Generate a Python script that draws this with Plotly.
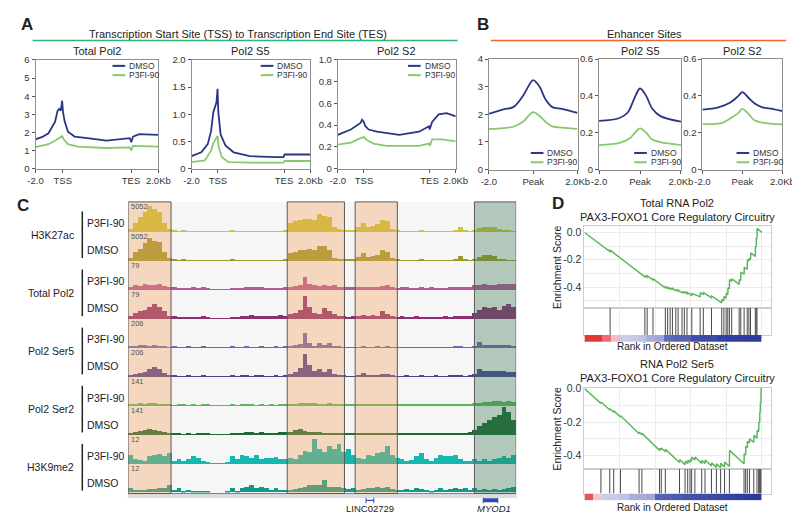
import plotly.graph_objects as go

W, H = 800, 514
FONT = "Liberation Sans, Arial, sans-serif"
DMSO_COLOR = "#2b3585"
P3FI_COLOR = "#86c96f"

###################### A: TSS -> TES metaprofiles ######################
a_tickvals = [0, 20, 70, 90]
a_ticktext = ["-2.0", "TSS", "TES", "2.0Kb"]

a1_dmso_x = [0, 5, 9.5, 14.3, 16.2, 17.4, 18.6, 19.5, 20.2, 21.4, 23.8, 28.6, 38, 52, 69, 70.2, 71.4, 76, 90]
a1_dmso_y = [1.62, 1.75, 1.95, 2.58, 3.2, 3.3, 3.2, 3.75, 3.1, 2.6, 2.04, 1.77, 1.68, 1.55, 1.68, 1.46, 1.77, 1.9, 1.86]
a1_p3fi_x = [0, 9.5, 15.5, 17.9, 19.5, 20.9, 23.8, 31, 52, 69, 70.2, 71.4, 90]
a1_p3fi_y = [1.19, 1.35, 1.59, 1.71, 1.8, 1.59, 1.35, 1.22, 1.14, 1.17, 1.0, 1.26, 1.21]

a2_dmso_x = [0, 7.4, 12.3, 14.8, 16.5, 17.7, 18.9, 19.7, 20.3, 22, 25.8, 31.9, 44, 64, 69.5, 70.5, 90]
a2_dmso_y = [0.23, 0.3, 0.45, 0.69, 1.04, 1.13, 1.22, 1.47, 1.04, 0.63, 0.42, 0.30, 0.23, 0.21, 0.21, 0.26, 0.26]
a2_p3fi_x = [0, 10, 14.8, 16.2, 18.9, 19.7, 20.6, 23, 28, 45, 69.5, 70.5, 90]
a2_p3fi_y = [0.12, 0.15, 0.33, 0.45, 0.57, 0.6, 0.39, 0.21, 0.12, 0.11, 0.11, 0.14, 0.14]

a3_dmso_x = [0, 10, 17.4, 18.6, 19.9, 21.1, 23.6, 29.8, 47, 62, 69.6, 70.1, 72, 77, 83, 90]
a3_dmso_y = [0.31, 0.36, 0.42, 0.45, 0.43, 0.39, 0.36, 0.34, 0.31, 0.34, 0.39, 0.36, 0.43, 0.50, 0.51, 0.48]
a3_p3fi_x = [0, 10, 17.4, 19.9, 22.4, 27.3, 37, 62, 69.6, 70.3, 72, 79.6, 90]
a3_p3fi_y = [0.22, 0.24, 0.28, 0.29, 0.26, 0.23, 0.21, 0.21, 0.23, 0.21, 0.27, 0.27, 0.25]

###################### B: enhancer profiles ######################
b_tickvals = [-2, 0, 2]
b_ticktext = ["-2.0", "Peak", "2.0Kb"]

b1_x = [-2, -1.34, -0.9, -0.46, -0.17, 0, 0.27, 0.56, 0.86, 1.3, 2]
b1_dmso = [2.02, 2.18, 2.26, 2.67, 3.08, 3.24, 3.02, 2.53, 2.26, 2.2, 2.05]
b1_p3fi = [1.47, 1.5, 1.55, 1.73, 1.98, 2.08, 1.95, 1.73, 1.56, 1.52, 1.47]

b2_dmso_x = [-2, -1, -0.6, -0.3, 0, 0.3, 0.6, 1.0, 2]
b2_dmso = [0.264, 0.28, 0.31, 0.38, 0.44, 0.40, 0.33, 0.29, 0.26]
b2_p3fi_x = [-2, -1, -0.5, -0.25, 0, 0.3, 0.6, 1, 2]
b2_p3fi = [0.133, 0.145, 0.17, 0.2, 0.224, 0.2, 0.163, 0.149, 0.133]

b3_dmso_x = [-2, -1.2, -0.6, -0.2, 0, 0.3, 0.6, 1, 1.5, 2]
b3_dmso = [0.325, 0.338, 0.364, 0.40, 0.42, 0.39, 0.36, 0.338, 0.329, 0.317]
b3_p3fi_x = [-2, -1, -0.5, -0.2, 0, 0.3, 0.6, 1, 2]
b3_p3fi = [0.247, 0.254, 0.285, 0.308, 0.329, 0.303, 0.268, 0.255, 0.245]

###################### C: browser tracks (80 bins, 0-10 of track max) ######################
h3k27ac_p3fi = [1, 3, 5, 7, 9, 8, 7, 3, 1,
                0.2, 0.1, 0.4, 0.1, 0.1, 0.1, 0.1, 0.1, 0.1, 0.1, 0.1, 0.1, 0.3, 0.1, 0.1, 0.1, 0.1, 0.1, 0.1, 0.1, 0.1, 0.1, 0.1, 0.3,
                3, 3.5, 4, 4.5, 4.5, 4, 6, 5.5, 5, 1.5, 0.7, 0.3,
                0.3, 0.2,
                1.5, 3, 1.5, 2, 2.5, 4, 3.5, 1, 0.2,
                0.1, 0.1, 0.1, 0.1, 0.2, 0.1, 0.1, 0.1, 0.1, 0.1, 0.1, 0.3, 1.5, 0.2, 0.1,
                0.3, 1.2, 1.7, 1.5, 1.5, 0.8, 0.2, 0.2, 0.1]
h3k27ac_dmso = [1, 3, 4, 6, 8, 7, 6.5, 3, 1,
                0.2, 0.1, 0.4, 0.1, 0.1, 0.1, 0.1, 0.1, 0.1, 0.1, 0.1, 0.1, 0.2, 0.1, 0.1, 0.1, 0.1, 0.1, 0.1, 0.1, 0.1, 0.1, 0.1, 0.2,
                2.5, 3, 3.5, 3.5, 4, 3.5, 5, 5, 3.5, 1, 0.5, 0.3,
                0.3, 0.2,
                1.2, 2.5, 1.2, 1.5, 2, 3.5, 3, 1, 0.2,
                0.1, 0.1, 0.1, 0.1, 0.2, 0.1, 0.1, 0.1, 0.1, 0.1, 0.1, 0.3, 1.5, 0.2, 0.1,
                0.3, 1.2, 2, 2, 1.5, 0.5, 0.2, 0.1, 0.1]
pol2_p3fi = [1, 1.5, 1.2, 1.8, 1.5, 1.5, 1.8, 1.2, 0.8,
             0.8, 0.2, 0.5, 0.2, 0.8, 0.2, 0.8, 0.5, 0, 0, 0, 0.1, 0.6, 0.2, 0.4, 1, 1, 0.8, 0.8, 0.3, 0.5, 0.6, 0.4, 1,
             1, 1.2, 1.5, 4.5, 2, 1.5, 1.2, 1.5, 1.3, 1.5, 1, 0.8,
             0.8, 0.8,
             0.8, 1, 0.7, 1, 0.8, 1.2, 1.5, 1, 0.6,
             0.8, 1, 0.5, 0.3, 0.8, 0.5, 0.8, 0.3, 0.2, 0.6, 0.8, 1, 0.8, 1, 1,
             1.5, 1.5, 1.8, 1.5, 1.6, 2, 2, 1.8, 1.8]
pol2_dmso = [1, 2, 2.5, 3, 4, 5, 4, 2.5, 1,
             0.8, 0.3, 0.6, 0.4, 0.6, 0.3, 0.8, 0.5, 0, 0, 0, 0, 0.6, 0.3, 0.8, 1, 1.2, 0.8, 1, 0.8, 1, 1, 1.2, 1,
             1.5, 2, 3, 8, 4, 2, 1.5, 3.5, 2.5, 1.5, 1, 0.8,
             0.6, 0.8,
             1, 1.2, 1, 1.3, 1, 2.5, 1.5, 1, 0.6,
             0.8, 0.6, 0.3, 0.8, 0.5, 0.2, 0.6, 0.4, 0.5, 0.8, 0.6, 1, 0.8, 1, 1,
             2, 3, 4, 3.5, 4, 3, 4.5, 5, 4]
ser5_p3fi = [0.2, 0.6, 0.8, 0.8, 0.6, 0.8, 0.5, 0.2, 0.1,
             0.2, 0.1, 0.1, 0.2, 0.1, 0.1, 0.2, 0.1, 0, 0, 0.1, 0.1, 0.2, 0.1, 0.1, 0.2, 0.1, 0.1, 0.2, 0.1, 0.1, 0.2, 0.1, 0.2,
             0.3, 0.8, 1.2, 5, 1.5, 0.5, 1.5, 0.8, 1.5, 0.5, 0.2, 0.1,
             0.1, 0.1,
             0.1, 0.5, 0.1, 0.1, 0.3, 0.1, 0.6, 0.1, 0.1,
             0.1, 0.1, 0.1, 0.1, 0.1, 0.1, 0.1, 0.1, 0.1, 0.1, 0.1, 0.4, 0.4, 0.1, 0.1,
             0.5, 2, 0.8, 1, 0.8, 0.8, 1, 0.8, 0.6]
ser5_dmso = [0.3, 0.8, 1.2, 1.5, 2.5, 3.3, 2.5, 1.2, 0.3,
             0.2, 0.1, 0.1, 0.2, 0.1, 0.1, 0.2, 0.1, 0, 0, 0.1, 0.1, 0.2, 0.1, 0.2, 0.2, 0.1, 0.2, 0.2, 0.1, 0.1, 0.2, 0.1, 0.2,
             1, 1.5, 3, 8, 4, 2, 2.5, 1.5, 2.5, 1, 0.3, 0.2,
             0.1, 0.1,
             0.3, 1.2, 0.5, 0.3, 0.5, 1, 0.8, 0.2, 0.1,
             0.1, 0.2, 0.1, 0.1, 0.2, 0.1, 0.1, 0.2, 0.1, 0.1, 0.2, 0.5, 0.4, 0.1, 0.2,
             1, 2.5, 2, 2, 2, 1.8, 2, 1.5, 1.5]
ser2_p3fi = [0.3, 0.5, 0.8, 0.6, 0.7, 0.8, 0.6, 0.4, 0.2,
             0.1, 0.3, 0.3, 0.1, 0.4, 0.1, 0.4, 0.3, 0, 0, 0, 0.1, 0.3, 0.1, 0.4, 0.5, 0.4, 0.1, 0.4, 0.1, 0.3, 0.1, 0.4, 0.2,
             0.5, 0.5, 0.8, 1, 1, 0.7, 0.6, 0.6, 0.7, 0.5, 0.3, 0.3,
             0.3, 0.4,
             0.3, 0.4, 0.3, 0.4, 0.4, 0.6, 0.4, 0.3, 0.3,
             0.2, 0.3, 0.2, 0.4, 0.3, 0.2, 0.3, 0.4, 0.2, 0.3, 0.4, 0.4, 0.3, 0.4, 0.5,
             0.8, 1, 1.2, 1.2, 1.4, 1.5, 1.3, 1.6, 1.2]
ser2_dmso = [0.5, 0.8, 1.2, 1.5, 1.8, 1.5, 1.2, 0.8, 0.4,
             0.2, 0.4, 0.1, 0.3, 0.1, 0.5, 0.4, 0.3, 0, 0, 0, 0.1, 0.5, 0.4, 0.6, 0.8, 0.7, 0.6, 0.8, 0.6, 0.5, 0.6, 0.7, 0.8,
             1, 1.5, 2, 1.2, 0.8, 0.7, 0.8, 0.6, 0.6, 0.4, 0.4, 0.5,
             0.4, 0.5,
             0.4, 0.5, 0.4, 0.6, 0.5, 0.6, 0.5, 0.4, 0.4,
             0.3, 0.5, 0.4, 0.3, 0.6, 0.4, 0.3, 0.5, 0.4, 0.6, 0.5, 0.4, 0.6, 0.5, 0.8,
             1.5, 3, 4, 5, 6, 7, 9.5, 8, 5]
k9_p3fi = [3, 1.5, 1.2, 1, 2.5, 3, 3.2, 2.5, 3.5,
           0.8, 1.5, 0.8, 1.5, 2.5, 2, 1, 0.3, 0, 0, 0, 0.2, 2.5, 1.5, 3, 2.5, 2, 3, 1.5, 2, 1.8, 2.2, 1.5, 1.5,
           2, 1.5, 3, 4.5, 4, 8.5, 5, 4, 6, 5, 7, 4,
           5, 3,
           2, 1.5, 3, 2.5, 3.5, 4, 6, 3, 2,
           1.5, 1, 1.2, 2.5, 3.5, 1.5, 1, 2, 3, 2.5, 2.5, 3, 1.5, 1, 0.8,
           1.5, 0.8, 1.5, 1, 1.5, 2, 2.5, 2, 3]
k9_dmso = [1.5, 0.8, 1, 1, 1.2, 1.2, 1.5, 1.5, 2.5,
           1, 1.5, 0.5, 1, 0.3, 0.5, 0.2, 0.3, 0, 0, 0, 0.3, 1.5, 0.5, 1.5, 2, 2.5, 1.5, 2, 1.5, 1, 1.5, 1, 1,
           1, 1.2, 1.5, 1.8, 2.5, 2.5, 2.5, 4.2, 2, 2, 1.8, 1.5,
           1.2, 1.5,
           1, 1.2, 1.5, 1.5, 2, 1.5, 1.8, 1.2, 1,
           1, 1.2, 1, 1.5, 1.2, 1, 0.5, 1, 1.5, 1, 1.2, 1.5, 1.2, 1.5, 1,
           1.5, 1, 1.2, 1, 1.2, 1, 1.2, 1.5, 2]

track_values = [h3k27ac_p3fi, h3k27ac_dmso, pol2_p3fi, pol2_dmso, ser5_p3fi,
                ser5_dmso, ser2_p3fi, ser2_dmso, k9_p3fi, k9_dmso]
track_max = ["5052", "5052", "79", "79", "206", "206", "141", "141", "12", "12"]
track_colors = ["#cbc43a", "#9e9a2c", "#b8559c", "#8e2f74", "#6c68b2",
                "#4c4592", "#5cb85c", "#1d6a35", "#14b8b0", "#0f9a8a"]
mark_groups = ["H3K27ac", "Total Pol2", "Pol2 Ser5", "Pol2 Ser2", "H3K9me2"]
conditions = ["P3FI-90", "DMSO"]

region_start = [0, 32.8, 46.8, 71.4]
region_end = [8.85, 44.6, 55.5, 80]
region_fill = ["rgba(240,160,90,0.36)", "rgba(240,160,90,0.36)",
               "rgba(240,160,90,0.36)", "rgba(55,120,80,0.36)"]

gene_names = ["LINC02729", "<i>MYOD1</i>"]
gene_start = [49.05, 73.2]
gene_end = [50.65, 76.2]

###################### D: GSEA ######################
es1_rank = [0, 1440, 1450, 3300, 3410, 3420, 3540, 3550, 3860, 3870, 4550, 4570, 4690, 4700, 4830, 4840,
            4960, 4970, 5150, 5160, 5280, 5290, 5500, 5510, 5630, 5640, 5780, 5790, 6050, 6060, 6520, 6530,
            6700, 6710, 7160, 7170, 7740, 7750, 7857, 7867, 7985, 7995, 8080, 8090, 8170, 8180, 8300, 8310,
            8720, 8730, 8810, 8820, 9000, 9010, 9175, 9185, 9270, 9280, 9360, 9370, 9630, 9640, 9680, 9690,
            9725, 9735, 10000]
es1_score = [0, -0.14, -0.13, -0.315, -0.325, -0.315, -0.327, -0.318, -0.348, -0.34, -0.405, -0.398, -0.41, -0.402, -0.414, -0.405,
             -0.418, -0.41, -0.428, -0.418, -0.43, -0.422, -0.443, -0.432, -0.445, -0.435, -0.448, -0.438, -0.462, -0.448, -0.47, -0.44,
             -0.456, -0.44, -0.478, -0.465, -0.515, -0.49, -0.5, -0.47, -0.48, -0.445, -0.455, -0.405, -0.412, -0.345, -0.357, -0.34,
             -0.38, -0.345, -0.352, -0.29, -0.305, -0.255, -0.27, -0.2, -0.208, -0.19, -0.2, -0.15, -0.175, -0.1, -0.105, -0.04,
             -0.045, 0.03, 0.0]
hits1 = [1447, 3407, 3535, 3865, 4560, 4690, 4830, 4960, 5150, 5280, 5500, 5630, 5780, 6050, 6520, 6700,
         7160, 7740, 7857, 7985, 8080, 8170, 8300, 8720, 8810, 9000, 9175, 9270, 9360, 9630, 9680, 9725]
bar1_z = [1, 1, 0.6, 0.15, -0.05, -0.06, -0.08, -0.15, -0.18, -0.45,
          -0.5, -0.52, -0.65, -0.68, -0.7, -0.82, -0.85, -0.88, -0.9, -0.92]

es2_rank = [0, 930, 940, 1430, 1440, 1650, 1660, 2030, 2040, 3080, 3090, 3240, 3250, 4230, 4240, 4330, 4340,
            4560, 4570, 5359, 5369, 5672, 5682, 5820, 5830, 5948, 5958, 6041, 6051, 6225, 6235, 6610, 6620,
            6796, 6806, 7160, 7170, 7436, 7446, 7675, 7685, 7895, 7905, 8170, 8180, 8995, 9005, 9085, 9095,
            9180, 9190, 9300, 9310, 9545, 9555, 9725, 9735, 9820, 9830, 9875, 9885, 9910, 9920, 9950, 9960, 10000]
es2_score = [0, -0.088, -0.08, -0.128, -0.12, -0.141, -0.133, -0.17, -0.162, -0.27, -0.26, -0.276, -0.268, -0.37, -0.358, -0.367, -0.356,
             -0.378, -0.364, -0.443, -0.425, -0.456, -0.435, -0.449, -0.43, -0.443, -0.425, -0.434, -0.41, -0.428, -0.41, -0.448, -0.43,
             -0.449, -0.428, -0.464, -0.445, -0.472, -0.45, -0.474, -0.448, -0.47, -0.44, -0.467, -0.37, -0.45, -0.39, -0.398, -0.345,
             -0.354, -0.315, -0.326, -0.3, -0.323, -0.28, -0.297, -0.25, -0.258, -0.2, -0.205, -0.14, -0.143, -0.08, -0.083, 0.004, 0.0]
hits2 = [930, 1430, 1650, 2030, 3080, 3240, 4230, 4330, 4560, 5359, 5672, 5820, 5948, 6041, 6225, 6610,
         6796, 7160, 7436, 7675, 7895, 8170, 8995, 9085, 9180, 9300, 9545, 9725, 9820, 9875, 9910, 9950]
bar2_z = [0.8, 0.1, -0.05, -0.06, -0.08, -0.15, -0.16, -0.18, -0.5, -0.52,
          -0.55, -0.58, -0.62, -0.65, -0.7, -0.75, -0.8, -0.85, -0.9, -0.95]
rank_bar_scale = [[0, "#27349a"], [0.2, "#4550ad"], [0.35, "#7c83c6"], [0.45, "#b9bde0"],
                  [0.5, "#dcdcee"], [0.55, "#f2c6cf"], [0.75, "#ec7a84"], [1, "#e2383c"]]


fig = go.Figure()
axes_layout = {}
annots = []
shapes = []


def new_axes(box, xa, ya):
    n = len(axes_layout) // 2 + 1
    s = "" if n == 1 else str(n)
    x0, x1, y0, y1 = box
    axes_layout["xaxis" + s] = dict(domain=[x0 / W, x1 / W], anchor="y" + s, **xa)
    axes_layout["yaxis" + s] = dict(domain=[1 - y1 / H, 1 - y0 / H], anchor="x" + s, **ya)
    return "x" + s, "y" + s


def text(x, y, s, size=11, anchor="center", color="#222", bold=False, angle=0):
    annots.append(dict(x=x / W, y=1 - y / H, xref="paper", yref="paper", text=s, showarrow=False,
                       xanchor=anchor, yanchor="middle", textangle=angle, borderpad=0,
                       font=dict(size=size, color=color, family=FONT, weight="bold" if bold else "normal")))


def pline(x0, y0, x1, y1, color, width=1.5):
    shapes.append(dict(type="line", xref="paper", yref="paper", x0=x0 / W, x1=x1 / W,
                       y0=1 - y0 / H, y1=1 - y1 / H, line=dict(color=color, width=width)))


frame = dict(showline=True, mirror=True, linecolor="#8f8f8f", linewidth=1, ticks="outside", ticklen=3,
             tickcolor="#555", showgrid=False, zeroline=False, tickfont=dict(size=9.5, color="#333", family=FONT))


def profile(box, title, xtv, xtt, yr, ytv, ytt, dx, dy, px_, py_, legend_at, spline=False):
    xa, ya = new_axes(box, dict(range=[xtv[0], xtv[-1]], tickvals=xtv, ticktext=xtt, **frame),
                      dict(range=yr, tickvals=ytv, ticktext=ytt, **frame))
    shape = "spline" if spline else "linear"
    fig.add_trace(go.Scatter(x=px_, y=py_, mode="lines", line=dict(color=P3FI_COLOR, width=1.8, shape=shape),
                             xaxis=xa, yaxis=ya, showlegend=False, hoverinfo="skip"))
    fig.add_trace(go.Scatter(x=dx, y=dy, mode="lines", line=dict(color=DMSO_COLOR, width=1.8, shape=shape),
                             xaxis=xa, yaxis=ya, showlegend=False, hoverinfo="skip"))
    if title:
        text((box[0] + box[1]) / 2, 38, title, size=11)
    lx, ly = legend_at
    for i, (nm, col) in enumerate([("DMSO", DMSO_COLOR), ("P3FI-90", P3FI_COLOR)]):
        pline(lx, ly + 9.5 * i, lx + 13, ly + 9.5 * i, col, 2)
        text(lx + 16, ly + 9.5 * i, nm, size=8.5, anchor="left", color="#333")


# ---- A ----
text(11, 11, "A", size=17, bold=True)
text(228, 20, "Transcription Start Site (TSS) to Transcription End Site (TES)", size=11)
pline(17, 27, 453, 27, "#2fb574", 1.5)
profile((20, 146, 47, 158), "Total Pol2", a_tickvals, a_ticktext, [0, 6], [0, 1, 2, 3, 4, 5, 6],
        ["0", "1", "2", "3", "4", "5", "6"], a1_dmso_x, a1_dmso_y, a1_p3fi_x, a1_p3fi_y, (99, 53))
profile((180, 302, 47, 158), "Pol2 S5", a_tickvals, a_ticktext, [0, 2], [0, 0.5, 1, 1.5, 2],
        ["0", "0.5", "1.0", "1.5", "2.0"], a2_dmso_x, a2_dmso_y, a2_p3fi_x, a2_p3fi_y, (251, 53))
profile((330, 451, 47, 158), "Pol2 S2", a_tickvals, a_ticktext, [0, 1], [0, 0.2, 0.4, 0.6, 0.8, 1],
        ["0", "0.2", "0.4", "0.6", "0.8", "1.0"], a3_dmso_x, a3_dmso_y, a3_p3fi_x, a3_p3fi_y, (402, 53))

# ---- B ----
text(479, 11, "B", size=17, bold=True)
text(645, 20, "Enhancer Sites", size=11)
pline(487, 27, 790, 27, "#f0642d", 1.5)
profile((485, 576, 46, 159), None, b_tickvals, b_ticktext, [0, 4], [0, 1, 2, 3, 4],
        ["0", "1", "2", "3", "4"], b1_x, b1_dmso, b1_x, b1_p3fi, (528, 142), spline=True)
profile((598, 682, 46, 159), "Pol2 S5", b_tickvals, b_ticktext, [0, 0.6], [0, 0.2, 0.4, 0.6],
        ["0", "0.2", "0.4", "0.6"], b2_dmso_x, b2_dmso, b2_p3fi_x, b2_p3fi, (634, 142), spline=True)
profile((704, 786, 46, 159), "Pol2 S2", b_tickvals, b_ticktext, [0, 0.6], [0, 0.2, 0.4, 0.6],
        ["0", "0.2", "0.4", "0.6"], b3_dmso_x, b3_dmso, b3_p3fi_x, b3_p3fi, (739, 142), spline=True)

# ---- C ----
text(7, 196, "C", size=17, bold=True)
shapes.append(dict(type="rect", xref="paper", yref="paper", x0=115 / W, x1=513 / W, y0=1 - 490 / H,
                   y1=1 - 192 / H, fillcolor="#f6f6f7", line=dict(width=0), layer="below"))
shapes.append(dict(type="rect", xref="paper", yref="paper", x0=115 / W, x1=513 / W, y0=1 - 494 / H,
                   y1=1 - 490.5 / H, fillcolor="#dedede", line=dict(color="#c8c8c8", width=0.5)))
bins = [i + 0.5 for i in range(80)]
track_x = None
for i, vals in enumerate(track_values):
    base = 221.7 + 29.7 * i
    xa, ya = new_axes((115, 513, base - 29, base),
                      dict(range=[0, 80], showline=True, linecolor=track_colors[i], linewidth=1,
                           showticklabels=False, ticks="", showgrid=False, zeroline=False),
                      dict(range=[0, 10], visible=False))
    track_x = track_x or xa
    fig.add_trace(go.Bar(x=bins, y=vals, width=1, marker=dict(color=track_colors[i], line=dict(width=0)),
                         xaxis=xa, yaxis=ya, showlegend=False, hoverinfo="skip"))
    text(117, base - 24.5, track_max[i], size=7.5, anchor="left", color="#555")
    text(72, base - (8 if i % 2 == 0 else 10), conditions[i % 2], size=10.5, anchor="left")
    if i % 2 == 0:
        top, bot = base - 20, base + 29.7 - 2
        pline(68, top, 68, bot, "#222", 1.5)
        text(61, (top + bot) / 2, mark_groups[i // 2], size=10.5, anchor="right")

for s, e, c in zip(region_start, region_end, region_fill):
    shapes.append(dict(type="rect", xref=track_x, yref="paper", x0=s, x1=e, y0=1 - 490 / H, y1=1 - 192 / H,
                       fillcolor=c, line=dict(color="#5b5b5b", width=1), layer="above"))

gx, gy = new_axes((115, 513, 494, 500), dict(range=[0, 80], visible=False), dict(range=[0, 1], visible=False))
for nm, s, e, wd in zip(gene_names, gene_start, gene_end, [1.2, 4]):
    fig.add_trace(go.Scatter(x=[s, e], y=[0.5, 0.5], mode="lines+markers",
                             marker=dict(symbol="line-ns", size=5, line=dict(width=1, color="#3446b0")),
                             line=dict(color="#3446b0", width=wd), xaxis=gx, yaxis=gy,
                             showlegend=False, hoverinfo="skip"))
text(363, 505.5, gene_names[0], size=9.5)
text(490, 505.5, gene_names[1], size=9.5)

# ---- D ----
text(556, 194, "D", size=17, bold=True)
grid_x = dict(range=[0, 10495], tickvals=[2000, 4000, 6000, 8000, 10000], showticklabels=False, ticks="",
              showgrid=True, gridcolor="#ececec", showline=True, mirror=True, linecolor="#cccccc", zeroline=False)


def gsea(top, title, ranks, scores, hits, bar_z, yr, hit_h, text_y):
    text(678, top - 24, title, size=11)
    text(678, top - 10, "PAX3-FOXO1 Core Regulatory Circuitry", size=11)
    es_bot = top + 83
    xa, ya = new_axes((583, 774, top, es_bot), grid_x,
                      dict(range=yr, tickvals=[-0.5, -0.4, -0.3, -0.2, -0.1, 0],
                           ticktext=["", "-0.4", "", "-0.2", "", "0.0"], showgrid=True, gridcolor="#ececec",
                           showline=True, mirror=True, linecolor="#cccccc", zeroline=False, ticks="",
                           tickfont=dict(size=10.5, color="#333", family=FONT)))
    fig.add_trace(go.Scatter(x=ranks, y=scores, mode="lines", line=dict(color="#5cb85c", width=1.5),
                             xaxis=xa, yaxis=ya, showlegend=False, hoverinfo="skip"))
    text(555, (top + es_bot) / 2, "Enrichment Score", size=10.5, angle=-90)
    hx, hy = new_axes((583, 774, es_bot, es_bot + hit_h), grid_x,
                      dict(range=[0, 1], showticklabels=False, ticks="", showgrid=False, zeroline=False,
                           showline=True, mirror=True, linecolor="#cccccc"))
    lx, ly = [], []
    for h in hits:
        lx += [h, h, None]
        ly += [0, 1, None]
    fig.add_trace(go.Scatter(x=lx, y=ly, mode="lines", line=dict(color="#4a4a4a", width=1),
                             xaxis=hx, yaxis=hy, showlegend=False, hoverinfo="skip"))
    bx, by = new_axes((583, 774, es_bot + hit_h, es_bot + hit_h + 7), dict(range=[0, 10495], visible=False),
                      dict(range=[-0.5, 0.5], visible=False))
    fig.add_trace(go.Heatmap(z=[bar_z], x=[250 + 500 * k for k in range(len(bar_z))], y=[0],
                             colorscale=rank_bar_scale, zmin=-1, zmax=1, showscale=False,
                             xaxis=bx, yaxis=by, hoverinfo="skip"))
    text(673, text_y, "Rank in Ordered Dataset", size=10)


gsea(217, "Total RNA Pol2", es1_rank, es1_score, hits1, bar1_z, [-0.55, 0.045], 28, 340)
gsea(382, "RNA Pol2 Ser5", es2_rank, es2_score, hits2, bar2_z, [-0.482, 0.005], 25, 504.5)

fig.update_layout(**axes_layout)
fig.update_layout(width=W, height=H, margin=dict(l=0, r=0, t=0, b=0), paper_bgcolor="white",
                  plot_bgcolor="rgba(0,0,0,0)", showlegend=False, annotations=annots, shapes=shapes,
                  font=dict(family=FONT, color="#222"), bargap=0)
fig.write_html("out.html")
